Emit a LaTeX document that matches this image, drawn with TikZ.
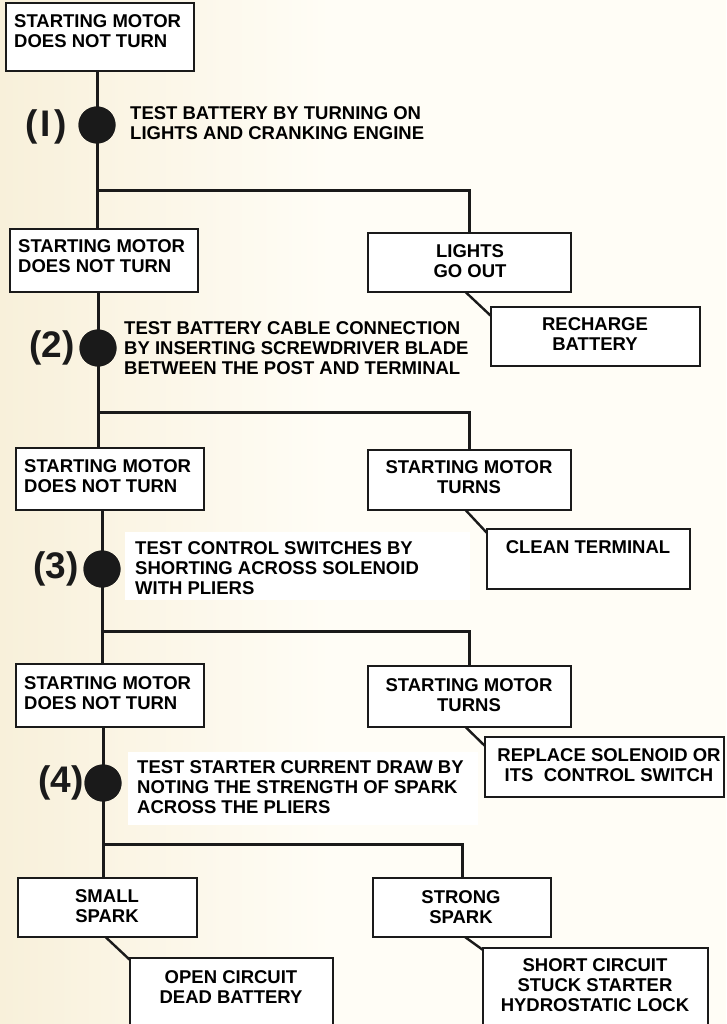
\documentclass[tikz,border=0pt]{standalone}
\usepackage{fontspec}
\setmainfont{Liberation Sans}
\usetikzlibrary{calc}
\definecolor{ink}{HTML}{1A1A1A}
\definecolor{cream}{HTML}{F8F0DA}
\definecolor{paper}{HTML}{FFFDF6}
\newcommand{\mystrut}{\rule{0pt}{14pt}}
\begin{document}
\begin{tikzpicture}[x=1pt, y=-1pt,
  box/.style={draw=ink, line width=1.2pt, fill=white, inner sep=0pt, outer sep=0pt, anchor=north west},
  btxt/.style={inner sep=0pt, font=\bfseries\fontsize{18.5}{20}\selectfont, text=black},
  conn/.style={draw=ink, line width=3pt},
  diag/.style={draw=ink, line width=2.4pt},
  dot/.style={circle, fill=ink, minimum size=37pt, inner sep=0pt},
  num/.style={font=\bfseries\fontsize{37}{40}\selectfont, text=ink, inner sep=0pt}]
\useasboundingbox (0,0) rectangle (726,1024);
\clip (0,0) rectangle (726,1024);
% background
\fill[paper] (0,0) rectangle (726,1024);
\shade[left color=cream, right color=paper] (0,0) rectangle (330,1024);
\fill[white] (125,532) rectangle (470,600);
\fill[white] (128,752) rectangle (478,825);

% junction coordinates
\coordinate (j1) at (97,191);
\coordinate (j2) at (98,412);
\coordinate (j3) at (102,631);
\coordinate (j4) at (103,844);

% circles (positions)
\node[dot] (c1) at (97,125) {};
\node[dot] (c2) at (98,348) {};
\node[dot] (c3) at (102,569) {};
\node[dot] (c4) at (103,783) {};

% boxes
\node[box, minimum width=188pt, minimum height=68pt] (b1) at (6,3) {};
\node[box, minimum width=188pt, minimum height=63pt] (b2) at (10,229) {};
\node[box, minimum width=203pt, minimum height=59pt] (lgt) at (368,233) {};
\node[box, minimum width=209pt, minimum height=59pt] (rch) at (491,307) {};
\node[box, minimum width=188pt, minimum height=62pt] (b3) at (16,448) {};
\node[box, minimum width=203pt, minimum height=60pt] (trn1) at (368,450) {};
\node[box, minimum width=203pt, minimum height=60pt] (cln) at (487,529) {};
\node[box, minimum width=188pt, minimum height=63pt] (b4) at (16,664) {};
\node[box, minimum width=203pt, minimum height=61pt] (trn2) at (368,666) {};
\node[box, minimum width=239pt, minimum height=60pt] (rpl) at (485,737) {};
\node[box, minimum width=179pt, minimum height=59pt] (sml) at (18,878) {};
\node[box, minimum width=178pt, minimum height=59pt] (strg) at (373,878) {};
\node[box, minimum width=203pt, minimum height=90pt] (opn) at (130,958) {};
\node[box, minimum width=225pt, minimum height=95pt] (shrt) at (483,948) {};

% connectors
\draw[conn] (c1 |- b1.south) -- (c1 |- b2.north);
\draw[conn] (j1) -| (lgt.north);
\draw[diag] ($(lgt.south)+(-4,0)$) -- ($(rch.north west)+(0,9)$);
\draw[conn] (c2 |- b2.south) -- (c2 |- b3.north);
\draw[conn] (j2) -| (trn1.north);
\draw[diag] ($(trn1.south)+(-4,0)$) -- ($(cln.north west)+(0,4)$);
\draw[conn] (c3 |- b3.south) -- (c3 |- b4.north);
\draw[conn] (j3) -| (trn2.north);
\draw[diag] ($(trn2.south)+(-4,0)$) -- ($(rpl.north west)+(0,9)$);
\draw[conn] (c4 |- b4.south) -- (c4 |- sml.north);
\draw[conn] (j4) -| (strg.north);
\draw[diag] ($(sml.south)+(-2,0)$) -- ($(opn.north west)+(0,2)$);
\draw[diag] ($(strg.south)+(3,0)$) -- ($(shrt.north west)+(0,2)$);

% redraw boxes on top of connector ends
\foreach \b in {b1,b2,lgt,rch,b3,trn1,cln,b4,trn2,rpl,sml,strg,opn,shrt}{
  \draw[ink, line width=1.2pt, fill=white] (\b.north west) rectangle (\b.south east);
}
% dots on top
\foreach \c in {c1,c2,c3,c4}{
  \fill[ink] (\c) circle[radius=18.5pt];
}

% step labels
\node[num] (l1) at (46,127) {(\hspace{3pt}I\hspace{3pt})};
\node[num] (l2) at (52,348) {(2)};
\node[num] (l3) at (56,569) {(3)};
\node[num] (l4) at (61,783) {(4)};

% test texts
\node[btxt, anchor=north west, align=left] (t1) at (130,105.6) {\mystrut TEST BATTERY BY TURNING ON\\LIGHTS AND CRANKING ENGINE};
\node[btxt, anchor=north west, align=left] (t2) at (124,320.6) {\mystrut TEST BATTERY CABLE CONNECTION\\BY INSERTING SCREWDRIVER BLADE\\BETWEEN THE POST AND TERMINAL};
\node[btxt, anchor=north west, align=left] (t3) at (135,540.6) {\mystrut TEST CONTROL SWITCHES BY\\SHORTING ACROSS SOLENOID\\WITH PLIERS};
\node[btxt, anchor=north west, align=left] (t4) at (137,759.6) {\mystrut TEST STARTER CURRENT DRAW BY\\NOTING THE STRENGTH OF SPARK\\ACROSS THE PLIERS};

% box texts
\node[btxt, anchor=north west, align=left] (b1t) at (14,13.6) {\mystrut STARTING MOTOR\\DOES NOT TURN};
\node[btxt, anchor=north west, align=left] (b2t) at (18,238.6) {\mystrut STARTING MOTOR\\DOES NOT TURN};
\node[btxt, anchor=north, align=center] (lgtt) at (470,243.6) {\mystrut LIGHTS\\GO OUT};
\node[btxt, anchor=north, align=center] (rcht) at (595,316.6) {\mystrut RECHARGE\\BATTERY};
\node[btxt, anchor=north west, align=left] (b3t) at (24,458.6) {\mystrut STARTING MOTOR\\DOES NOT TURN};
\node[btxt, anchor=north, align=center] (trn1t) at (469,459.6) {\mystrut STARTING MOTOR\\TURNS};
\node[btxt, anchor=north, align=center] (clnt) at (588,539.6) {\mystrut CLEAN TERMINAL};
\node[btxt, anchor=north west, align=left] (b4t) at (24,675.6) {\mystrut STARTING MOTOR\\DOES NOT TURN};
\node[btxt, anchor=north, align=center] (trn2t) at (469,677.6) {\mystrut STARTING MOTOR\\TURNS};
\node[btxt, anchor=north, align=center] (rplt) at (609,747.6) {\mystrut REPLACE SOLENOID OR\\ITS\ \ CONTROL SWITCH};
\node[btxt, anchor=north, align=center] (smlt) at (107,888.6) {\mystrut SMALL\\SPARK};
\node[btxt, anchor=north, align=center] (strgt) at (461,889.6) {\mystrut STRONG\\SPARK};
\node[btxt, anchor=north, align=center] (opnt) at (231,969.6) {\mystrut OPEN CIRCUIT\\DEAD BATTERY};
\node[btxt, anchor=north, align=center] (shrtt) at (595,957.6) {\mystrut SHORT CIRCUIT\\STUCK STARTER\\HYDROSTATIC LOCK};
\end{tikzpicture}
\end{document}
